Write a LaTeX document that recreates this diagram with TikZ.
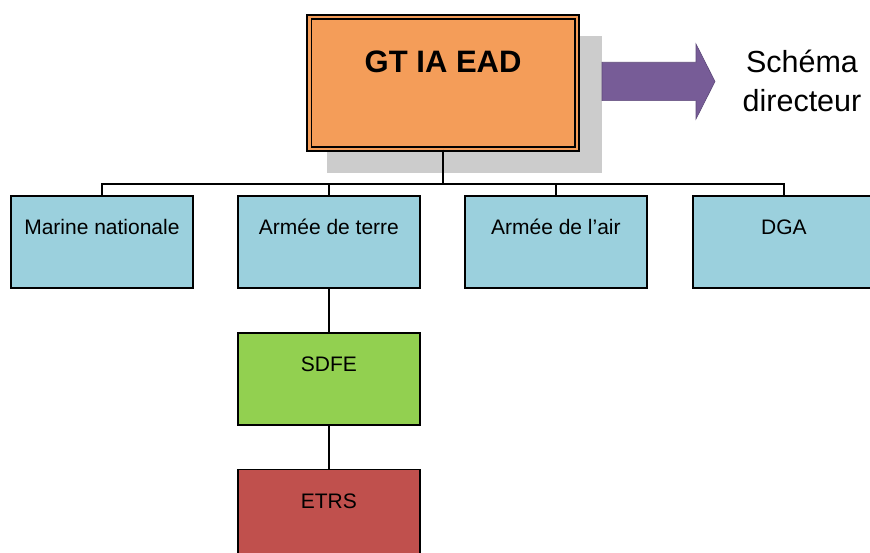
\documentclass[tikz,border=0pt]{standalone}
\usepackage{fontspec}
\setmainfont{Liberation Sans}
\definecolor{orangeF}{HTML}{F49D59}
\definecolor{blueF}{HTML}{9BD0DD}
\definecolor{greenF}{HTML}{92D050}
\definecolor{redF}{HTML}{C0504D}
\definecolor{shadowF}{HTML}{CCCCCC}
\definecolor{purpleF}{HTML}{775C97}
\definecolor{purpleD}{HTML}{5E4A7A}
\begin{document}
\begin{tikzpicture}[x=1pt,y=-1pt,
  orgbox/.style={draw=black,line width=1.8pt,minimum width=182pt,inner xsep=0pt,inner ysep=0pt,
    text height=39pt,text depth=53pt,font=\fontsize{21}{25}\selectfont},
  conn/.style={draw=black,line width=1.8pt}]
\useasboundingbox (0,0) rectangle (870,553);
\clip (0,0) rectangle (870,553);
% shadow
\fill[shadowF] (327,36) rectangle (602,173);
% main box
\node[draw=black,double=orangeF,double distance=2.6pt,line width=1.7pt,fill=orangeF,
  minimum width=267.5pt,inner xsep=0pt,inner ysep=0pt,text height=55.7pt,text depth=76.3pt,
  font=\fontsize{31}{36}\selectfont\bfseries,anchor=north west] (main) at (308.5,16) {GT IA EAD};
% arrow
\fill[purpleF,draw=purpleD,line width=0.6pt] (602,62.3) -- (696,62.3) -- (696,44) -- (715,81.5) -- (696,119) -- (696,100.7) -- (602,100.7) -- cycle;
\node[align=center,font=\fontsize{30.5}{39}\selectfont,inner sep=0pt,anchor=base] (sd) at (802,112) {Schéma\\directeur};
% boxes
\node[orgbox,fill=blueF,anchor=north west] (mn) at (10,195) {Marine nationale};
\node[orgbox,fill=blueF,anchor=north west] (at) at (237,195) {Armée de terre};
\node[orgbox,fill=blueF,anchor=north west] (aa) at (464,195) {Armée de l’air};
\node[orgbox,fill=blueF,anchor=north west] (dga) at (692,195) {DGA};
\node[orgbox,fill=greenF,anchor=north west] (sdfe) at (237,332) {SDFE};
\node[orgbox,fill=redF,anchor=north west] (etrs) at (237,468.5) {ETRS};
% connectors
\coordinate (bus) at (441.5,184);
\draw[conn] (main.south) -- (main.south |- bus);
\draw[conn] (mn.north) -- (mn.north |- bus) -- (dga.north |- bus) -- (dga.north);
\draw[conn] (at.north) -- (at.north |- bus);
\draw[conn] (aa.north) -- (aa.north |- bus);
\draw[conn] (at.south) -- (sdfe.north);
\draw[conn] (sdfe.south) -- (etrs.north);
\end{tikzpicture}
\end{document}
